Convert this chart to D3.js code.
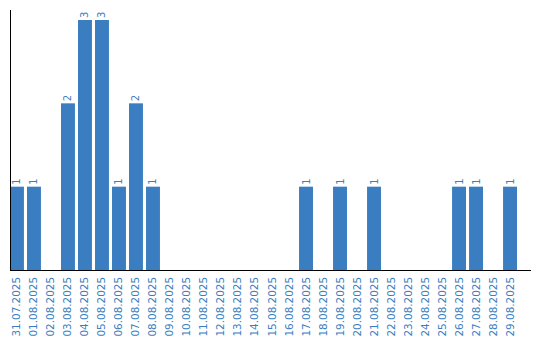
<!DOCTYPE html>
<html>
<head>
<meta charset="utf-8">
<script src="https://cdn.jsdelivr.net/npm/d3@7"></script>
<style>
  body { margin: 0; background: #fff; }
  svg text { font-family: "DejaVu Sans", Verdana, sans-serif; }
</style>
</head>
<body>
<svg id="chart" width="540" height="340"></svg>
<script>
const dates = [
  "31.07.2025", "01.08.2025", "02.08.2025", "03.08.2025", "04.08.2025",
  "05.08.2025", "06.08.2025", "07.08.2025", "08.08.2025", "09.08.2025",
  "10.08.2025", "11.08.2025", "12.08.2025", "13.08.2025", "14.08.2025",
  "15.08.2025", "16.08.2025", "17.08.2025", "18.08.2025", "19.08.2025",
  "20.08.2025", "21.08.2025", "22.08.2025", "23.08.2025", "24.08.2025",
  "25.08.2025", "26.08.2025", "27.08.2025", "28.08.2025", "29.08.2025",
];
const counts = [
  1, 1, 0, 2, 3, 3, 1, 2, 1, 0,
  0, 0, 0, 0, 0, 0, 0, 1, 0, 1,
  0, 1, 0, 0, 0, 0, 1, 1, 0, 1,
];

const color = "#3a7ec1";
const svg = d3.select("#chart");

const x = d3.scaleBand()
  .domain(dates)
  .range([10, 517])
  .paddingInner(0.18)
  .paddingOuter(0);

const y = d3.scaleLinear()
  .domain([0, 3.12])
  .range([270, 10]);

const data = dates.map((d, i) => ({ date: d, value: counts[i] }));

// bars
svg.append("g")
  .selectAll("rect")
  .data(data.filter((d) => d.value > 0))
  .enter()
  .append("rect")
  .attr("x", (d) => x(d.date))
  .attr("y", (d) => y(d.value))
  .attr("width", x.bandwidth())
  .attr("height", (d) => y(0) - y(d.value))
  .attr("fill", color);

// value labels, rotated
svg.append("g")
  .selectAll("text")
  .data(data.filter((d) => d.value > 0))
  .enter()
  .append("text")
  .attr("transform", (d) =>
    `translate(${x(d.date) + x.bandwidth() / 2 + 3.5}, ${y(d.value) - 2}) rotate(-90)`)
  .attr("fill", color)
  .attr("font-size", 10)
  .text((d) => d.value);

// x tick labels
svg.append("g")
  .selectAll("text")
  .data(dates)
  .enter()
  .append("text")
  .attr("transform", (d) =>
    `translate(${x(d) + x.bandwidth() / 2 + 3.5}, 277) rotate(-90)`)
  .attr("text-anchor", "end")
  .attr("fill", color)
  .attr("font-size", 10.4)
  .text((d) => d);

// axis lines
svg.append("line")
  .attr("x1", 10.5).attr("x2", 10.5)
  .attr("y1", y.range()[1]).attr("y2", y(0))
  .attr("stroke", "#000").attr("stroke-width", 1);

svg.append("line")
  .attr("x1", 10).attr("x2", 531)
  .attr("y1", y(0) + 0.5).attr("y2", y(0) + 0.5)
  .attr("stroke", "#000").attr("stroke-width", 1);
</script>
</body>
</html>
